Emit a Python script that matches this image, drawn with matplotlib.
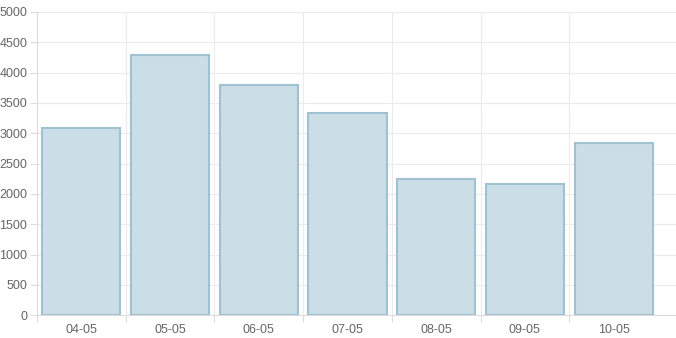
import matplotlib
matplotlib.use("Agg")
import matplotlib.pyplot as plt
import numpy as np

categories = ["04-05", "05-05", "06-05", "07-05", "08-05", "09-05", "10-05"]
values = [3080, 4290, 3800, 3330, 2250, 2165, 2835]
yticks = [0, 500, 1000, 1500, 2000, 2500, 3000, 3500, 4000, 4500, 5000]

plt.rcParams['font.family'] = ['Liberation Sans', 'DejaVu Sans']

W, H = 676, 338
fig = plt.figure(figsize=(W / 100, H / 100), dpi=100)
ax = fig.add_axes([37 / W, (H - 315.3) / H, (676 - 37) / W, (315.3 - 12) / H])

cat_w = 88.67
x = np.arange(len(categories))
ax.bar(x, values, width=0.88, color="#cbdde6", edgecolor="#9fc1d2", linewidth=1.5, zorder=2)

ax.set_ylim(0, 5000)
ax.set_xlim(-0.5, len(categories) - 0.5 + 18 / cat_w)
ax.set_yticks(yticks)
ax.set_yticklabels([str(v) for v in yticks])
ax.set_xticks(x)
ax.set_xticklabels(categories)
ax.set_xticks(np.arange(-0.5, len(categories) - 0.5, 1.0), minor=True)

ax.grid(axis="y", color="#ebebeb", linewidth=0.8, zorder=0)
for b in np.arange(0.5, len(categories) - 1, 1.0):
    ax.axvline(b, color="#ebebeb", linewidth=0.8, zorder=0)

for s in ["top", "right"]:
    ax.spines[s].set_visible(False)
ax.spines["left"].set_color("#dcdcdc")
ax.spines["bottom"].set_color("#dcdcdc")
ax.spines["left"].set_linewidth(0.8)
ax.spines["bottom"].set_linewidth(0.8)

ax.tick_params(axis="x", which="major", length=0, pad=6, labelsize=9, labelcolor="#666666")
ax.tick_params(axis="x", which="minor", length=5, color="#dcdcdc", width=0.8)
ax.tick_params(axis="y", length=5, color="#dcdcdc", width=0.8, pad=2, labelsize=9, labelcolor="#666666")

fig.savefig("out.png", dpi=100)
